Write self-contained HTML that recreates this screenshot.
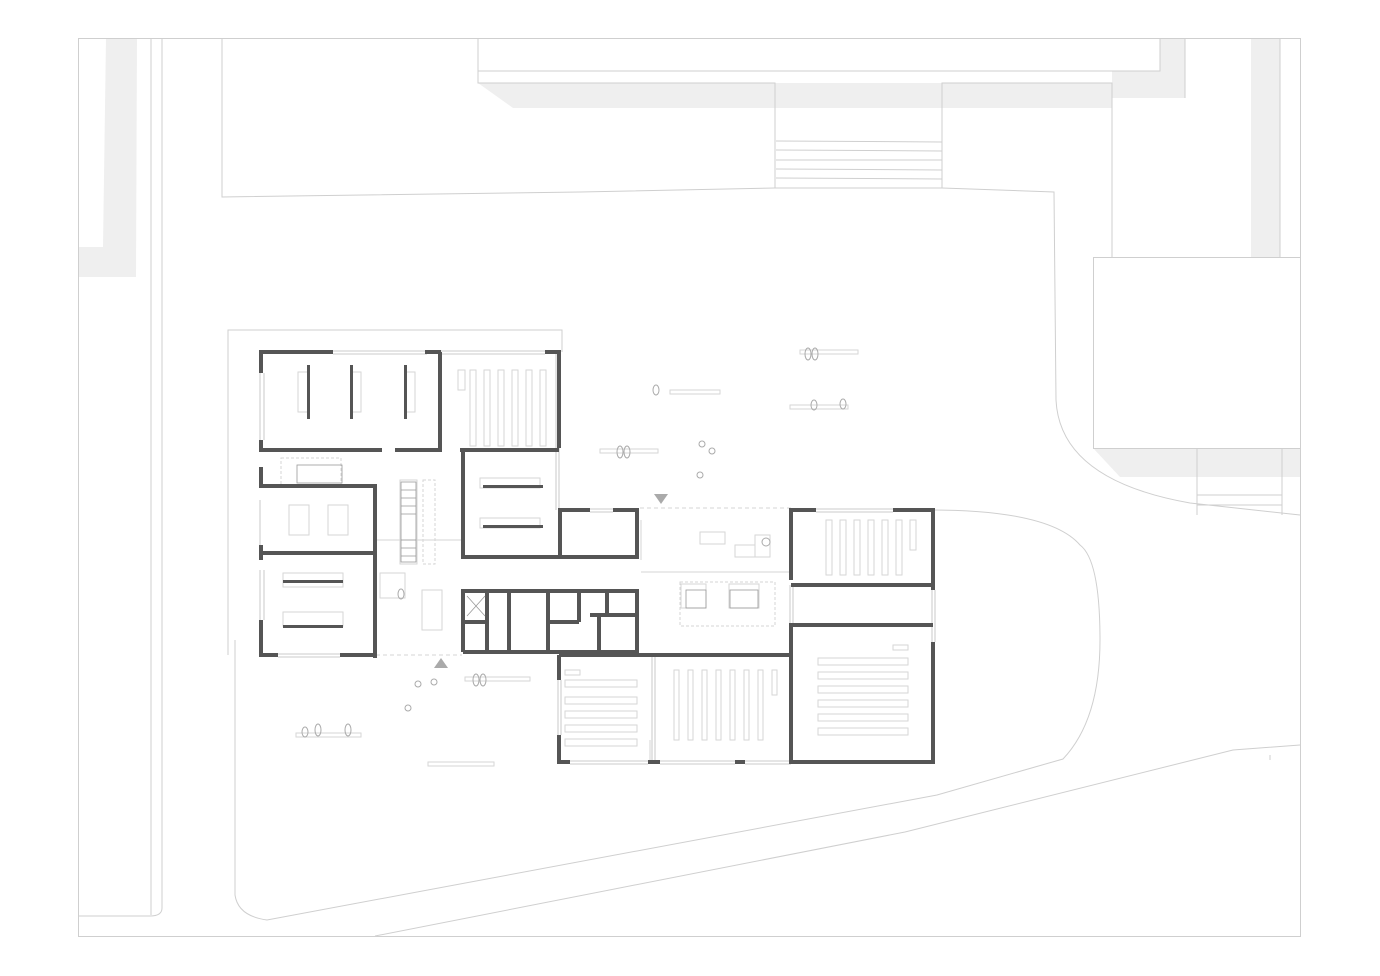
<!DOCTYPE html>
<html><head><meta charset="utf-8"><style>
html,body{margin:0;padding:0;background:#fff;}
svg{display:block;}
</style></head><body>
<svg width="1380" height="976" viewBox="0 0 1380 976" xmlns="http://www.w3.org/2000/svg">
<rect width="1380" height="976" fill="#fff"/>
<g fill="#efefef" stroke="none">
<polygon points="106,38 137,38 136,277 78,277 78,247 103,247"/>
<polygon points="478,83 1112,83 1112,108 513,108"/>
<rect x="1112" y="71" width="73" height="27"/>
<rect x="1160" y="38" width="25" height="60"/>
<rect x="1251" y="38" width="29" height="219"/>
<polygon points="1093,448 1300,448 1300,477 1120,477"/>
</g>
<g fill="none" stroke="#cfcfcf" stroke-width="1">
<rect x="78.5" y="38.5" width="1222" height="898"/>
<line x1="151" y1="38" x2="151" y2="915"/>
<path d="M162,38 L162,908 Q162,916 150,916 L78,916"/>
<path d="M222,38 L222,197 L580,192 L775,188 L942,188 L1054,192 L1056,400 Q1060,480 1190,503 L1300,515"/>
<path d="M478,38 L478,71 L1160,71 L1160,38"/>
<path d="M478,71 L478,83 L775,83 L775,188 M942,188 L942,83 L1112,83 L1112,257"/>
<line x1="776" y1="141" x2="942" y2="142"/><line x1="776" y1="150" x2="942" y2="151"/><line x1="776" y1="160" x2="942" y2="160"/><line x1="776" y1="169" x2="942" y2="170"/><line x1="776" y1="178" x2="942" y2="179"/>
<line x1="1185" y1="38" x2="1185" y2="98"/>
<line x1="1280" y1="38" x2="1280" y2="257"/>
<rect x="1093.5" y="257.5" width="207" height="191"/>
<line x1="1197" y1="448" x2="1197" y2="515"/><line x1="1282" y1="448" x2="1282" y2="515"/>
<line x1="1197" y1="495" x2="1282" y2="495"/><line x1="1197" y1="505" x2="1282" y2="505"/>
<path d="M228,655 L228,330 L562,330 L562,352"/>
<path d="M235,640 L235,895 Q238,916 267,920 L937,795 L1063,759 Q1100,720 1100,640 Q1100,560 1080,545 Q1050,510 930,510"/>
<path d="M375,936 L905,832 L1233,750 L1300,745"/>
<line x1="1270" y1="755" x2="1270" y2="760"/>
</g>
<!-- window lines (thin double) -->
<g fill="none" stroke="#bbb" stroke-width="0.8">
<path d="M333,351 L427,351 M333,354 L427,354 M440,351 L545,351 M440,354 L545,354"/>
<path d="M260,373 L260,440 M264,373 L264,440 M260,500 L260,545 M264,570 L264,620 M260,570 L260,620"/>
<path d="M278,654 L340,654 M278,657 L340,657"/>
<path d="M556,352 L556,510 M559,448 L559,510"/>
<path d="M590,509 L613,509 M590,512 L613,512 M816,509 L893,509 M816,512 L893,512"/>
<path d="M570,761 L648,761 M570,764 L648,764 M660,761 L735,761 M660,764 L735,764 M745,761 L791,761 M745,764 L791,764"/>
<path d="M558,680 L558,735 M561,680 L561,735"/>
<path d="M652,655 L652,762 M655,655 L655,762"/>
<path d="M790,585 L790,625 M793,585 L793,625 M932,590 L932,642 M935,590 L935,642"/>
</g>
<g fill="none" stroke="#d6d6d6" stroke-width="1">
<rect x="298" y="372" width="10" height="40"/><rect x="351" y="372" width="10" height="40"/><rect x="405" y="372" width="10" height="40"/>
<rect x="458" y="370" width="7" height="20"/>
<rect x="470" y="370" width="6" height="76"/><rect x="484" y="370" width="6" height="76"/><rect x="498" y="370" width="6" height="76"/><rect x="512" y="370" width="6" height="76"/><rect x="526" y="370" width="6" height="76"/><rect x="540" y="370" width="6" height="76"/>
<rect x="480" y="478" width="60" height="10"/><rect x="480" y="518" width="60" height="10"/>
<rect x="283" y="573" width="60" height="14"/><rect x="283" y="612" width="60" height="14"/>
<rect x="289" y="505" width="20" height="30"/><rect x="328" y="505" width="20" height="30"/>
<rect x="826" y="520" width="6" height="55"/><rect x="840" y="520" width="6" height="55"/><rect x="854" y="520" width="6" height="55"/><rect x="868" y="520" width="6" height="55"/><rect x="882" y="520" width="6" height="55"/><rect x="896" y="520" width="6" height="55"/><rect x="910" y="520" width="6" height="30"/>
<rect x="565" y="680" width="72" height="7"/><rect x="565" y="697" width="72" height="7"/><rect x="565" y="711" width="72" height="7"/><rect x="565" y="725" width="72" height="7"/><rect x="565" y="739" width="72" height="7"/><rect x="565" y="670" width="15" height="5"/>
<rect x="674" y="670" width="5" height="70"/><rect x="688" y="670" width="5" height="70"/><rect x="702" y="670" width="5" height="70"/><rect x="716" y="670" width="5" height="70"/><rect x="730" y="670" width="5" height="70"/><rect x="744" y="670" width="5" height="70"/><rect x="758" y="670" width="5" height="70"/><rect x="772" y="670" width="5" height="25"/>
<rect x="818" y="658" width="90" height="7"/><rect x="818" y="672" width="90" height="7"/><rect x="818" y="686" width="90" height="7"/><rect x="818" y="700" width="90" height="7"/><rect x="818" y="714" width="90" height="7"/><rect x="818" y="728" width="90" height="7"/><rect x="893" y="645" width="15" height="5"/>
<rect x="400" y="480" width="17" height="84"/><rect x="423" y="480" width="12" height="84" stroke-dasharray="3,2"/>
<rect x="680" y="582" width="95" height="44" stroke-dasharray="3,2"/>
<rect x="681" y="584" width="25" height="24"/><rect x="729" y="584" width="30" height="24"/>
<rect x="281" y="458" width="60" height="28" stroke-dasharray="3,2"/>
<rect x="380" y="573" width="25" height="25"/><rect x="422" y="590" width="20" height="40"/>
<rect x="700" y="532" width="25" height="12"/><rect x="735" y="545" width="20" height="12"/><rect x="755" y="535" width="15" height="22"/>
<rect x="670" y="390" width="50" height="4"/><rect x="800" y="350" width="58" height="4"/><rect x="790" y="405" width="58" height="4"/><rect x="600" y="449" width="58" height="4"/>
<rect x="465" y="677" width="65" height="4"/><rect x="296" y="733" width="65" height="4"/><rect x="428" y="762" width="66" height="4"/>
<line x1="640" y1="508" x2="791" y2="508" stroke-dasharray="4,3"/>
<line x1="376" y1="655" x2="462" y2="655" stroke-dasharray="4,3"/>
<line x1="650" y1="740" x2="650" y2="762"/>
<line x1="641" y1="520" x2="641" y2="560"/><line x1="641" y1="572" x2="790" y2="572"/>
<line x1="376" y1="540" x2="462" y2="540"/>
</g>
<g fill="#aaa">
<polygon points="654,494 668,494 661,504"/>
<polygon points="434,668 448,668 441,658"/>
</g>
<g fill="none" stroke="#aaa" stroke-width="1">
<ellipse cx="808" cy="354" rx="3" ry="6"/><ellipse cx="815" cy="354" rx="3" ry="6"/>
<ellipse cx="656" cy="390" rx="3" ry="5"/><ellipse cx="814" cy="405" rx="3" ry="5"/><ellipse cx="843" cy="404" rx="3" ry="5"/>
<ellipse cx="620" cy="452" rx="3" ry="6"/><ellipse cx="627" cy="452" rx="3" ry="6"/>
<ellipse cx="476" cy="680" rx="3" ry="6"/><ellipse cx="483" cy="680" rx="3" ry="6"/>
<ellipse cx="305" cy="732" rx="3" ry="5"/><ellipse cx="318" cy="730" rx="3" ry="6"/><ellipse cx="348" cy="730" rx="3" ry="6"/>
<ellipse cx="401" cy="594" rx="3" ry="5"/><ellipse cx="766" cy="542" rx="4" ry="4"/>
<ellipse cx="702" cy="444" rx="3" ry="3"/><ellipse cx="712" cy="451" rx="3" ry="3"/><ellipse cx="700" cy="475" rx="3" ry="3"/>
<ellipse cx="418" cy="684" rx="3" ry="3"/><ellipse cx="434" cy="682" rx="3" ry="3"/><ellipse cx="408" cy="708" rx="3" ry="3"/>
</g>
<!-- walls -->
<g fill="none" stroke="#555" stroke-width="4">
<path d="M261,373 L261,352 L333,352 M425,352 L441,352 M545,352 L559,352 L559,448"/>
<path d="M261,440 L261,450 L382,450 M395,450 L440,450 L440,352 M460,450 L559,450"/>
<path d="M261,467 L261,486 L375,486 L375,658 M261,553 L375,553 M261,545 L261,560 M261,620 L261,655 L278,655 M340,655 L375,655"/>
<path d="M463,450 L463,557 L637,557 L637,510 L613,510 M590,510 L560,510 L560,557"/>
<path d="M463,652 L463,591 L637,591 L637,652 L463,652"/>
<path d="M487,591 L487,652 M509,591 L509,652 M548,591 L548,652 M579,591 L579,622 M548,622 L579,622 M599,615 L599,652 M607,591 L607,615 M590,615 L637,615 M463,622 L487,622"/>
<path d="M559,680 L559,655 M559,735 L559,762 L570,762 M648,762 L660,762 M735,762 L745,762"/>
<path d="M791,580 L791,510 L816,510 M893,510 L933,510 L933,590 M933,642 L933,762 L791,762 L791,625 L933,625 M791,585 L933,585"/>
<path d="M559,655 L791,655"/>
</g>
<g fill="#555">
<rect x="307" y="365" width="3" height="54"/><rect x="350" y="365" width="3" height="54"/><rect x="404" y="365" width="3" height="54"/>
<rect x="483" y="485" width="60" height="3"/><rect x="483" y="525" width="60" height="3"/>
<rect x="283" y="580" width="60" height="3"/><rect x="283" y="625" width="60" height="3"/>
</g>
<g fill="none" stroke="#999" stroke-width="0.8">
<rect x="401" y="482" width="15" height="80"/>
<path d="M401,490 L416,490 M401,498 L416,498 M401,506 L416,506 M401,514 L416,514 M401,540 L416,540 M401,548 L416,548 M401,556 L416,556"/>
<rect x="686" y="590" width="20" height="18"/><rect x="730" y="590" width="28" height="18"/>
<rect x="297" y="465" width="45" height="18"/>
<path d="M467,596 L485,616 M485,596 L467,616"/>
</g>
</svg>
</body></html>
